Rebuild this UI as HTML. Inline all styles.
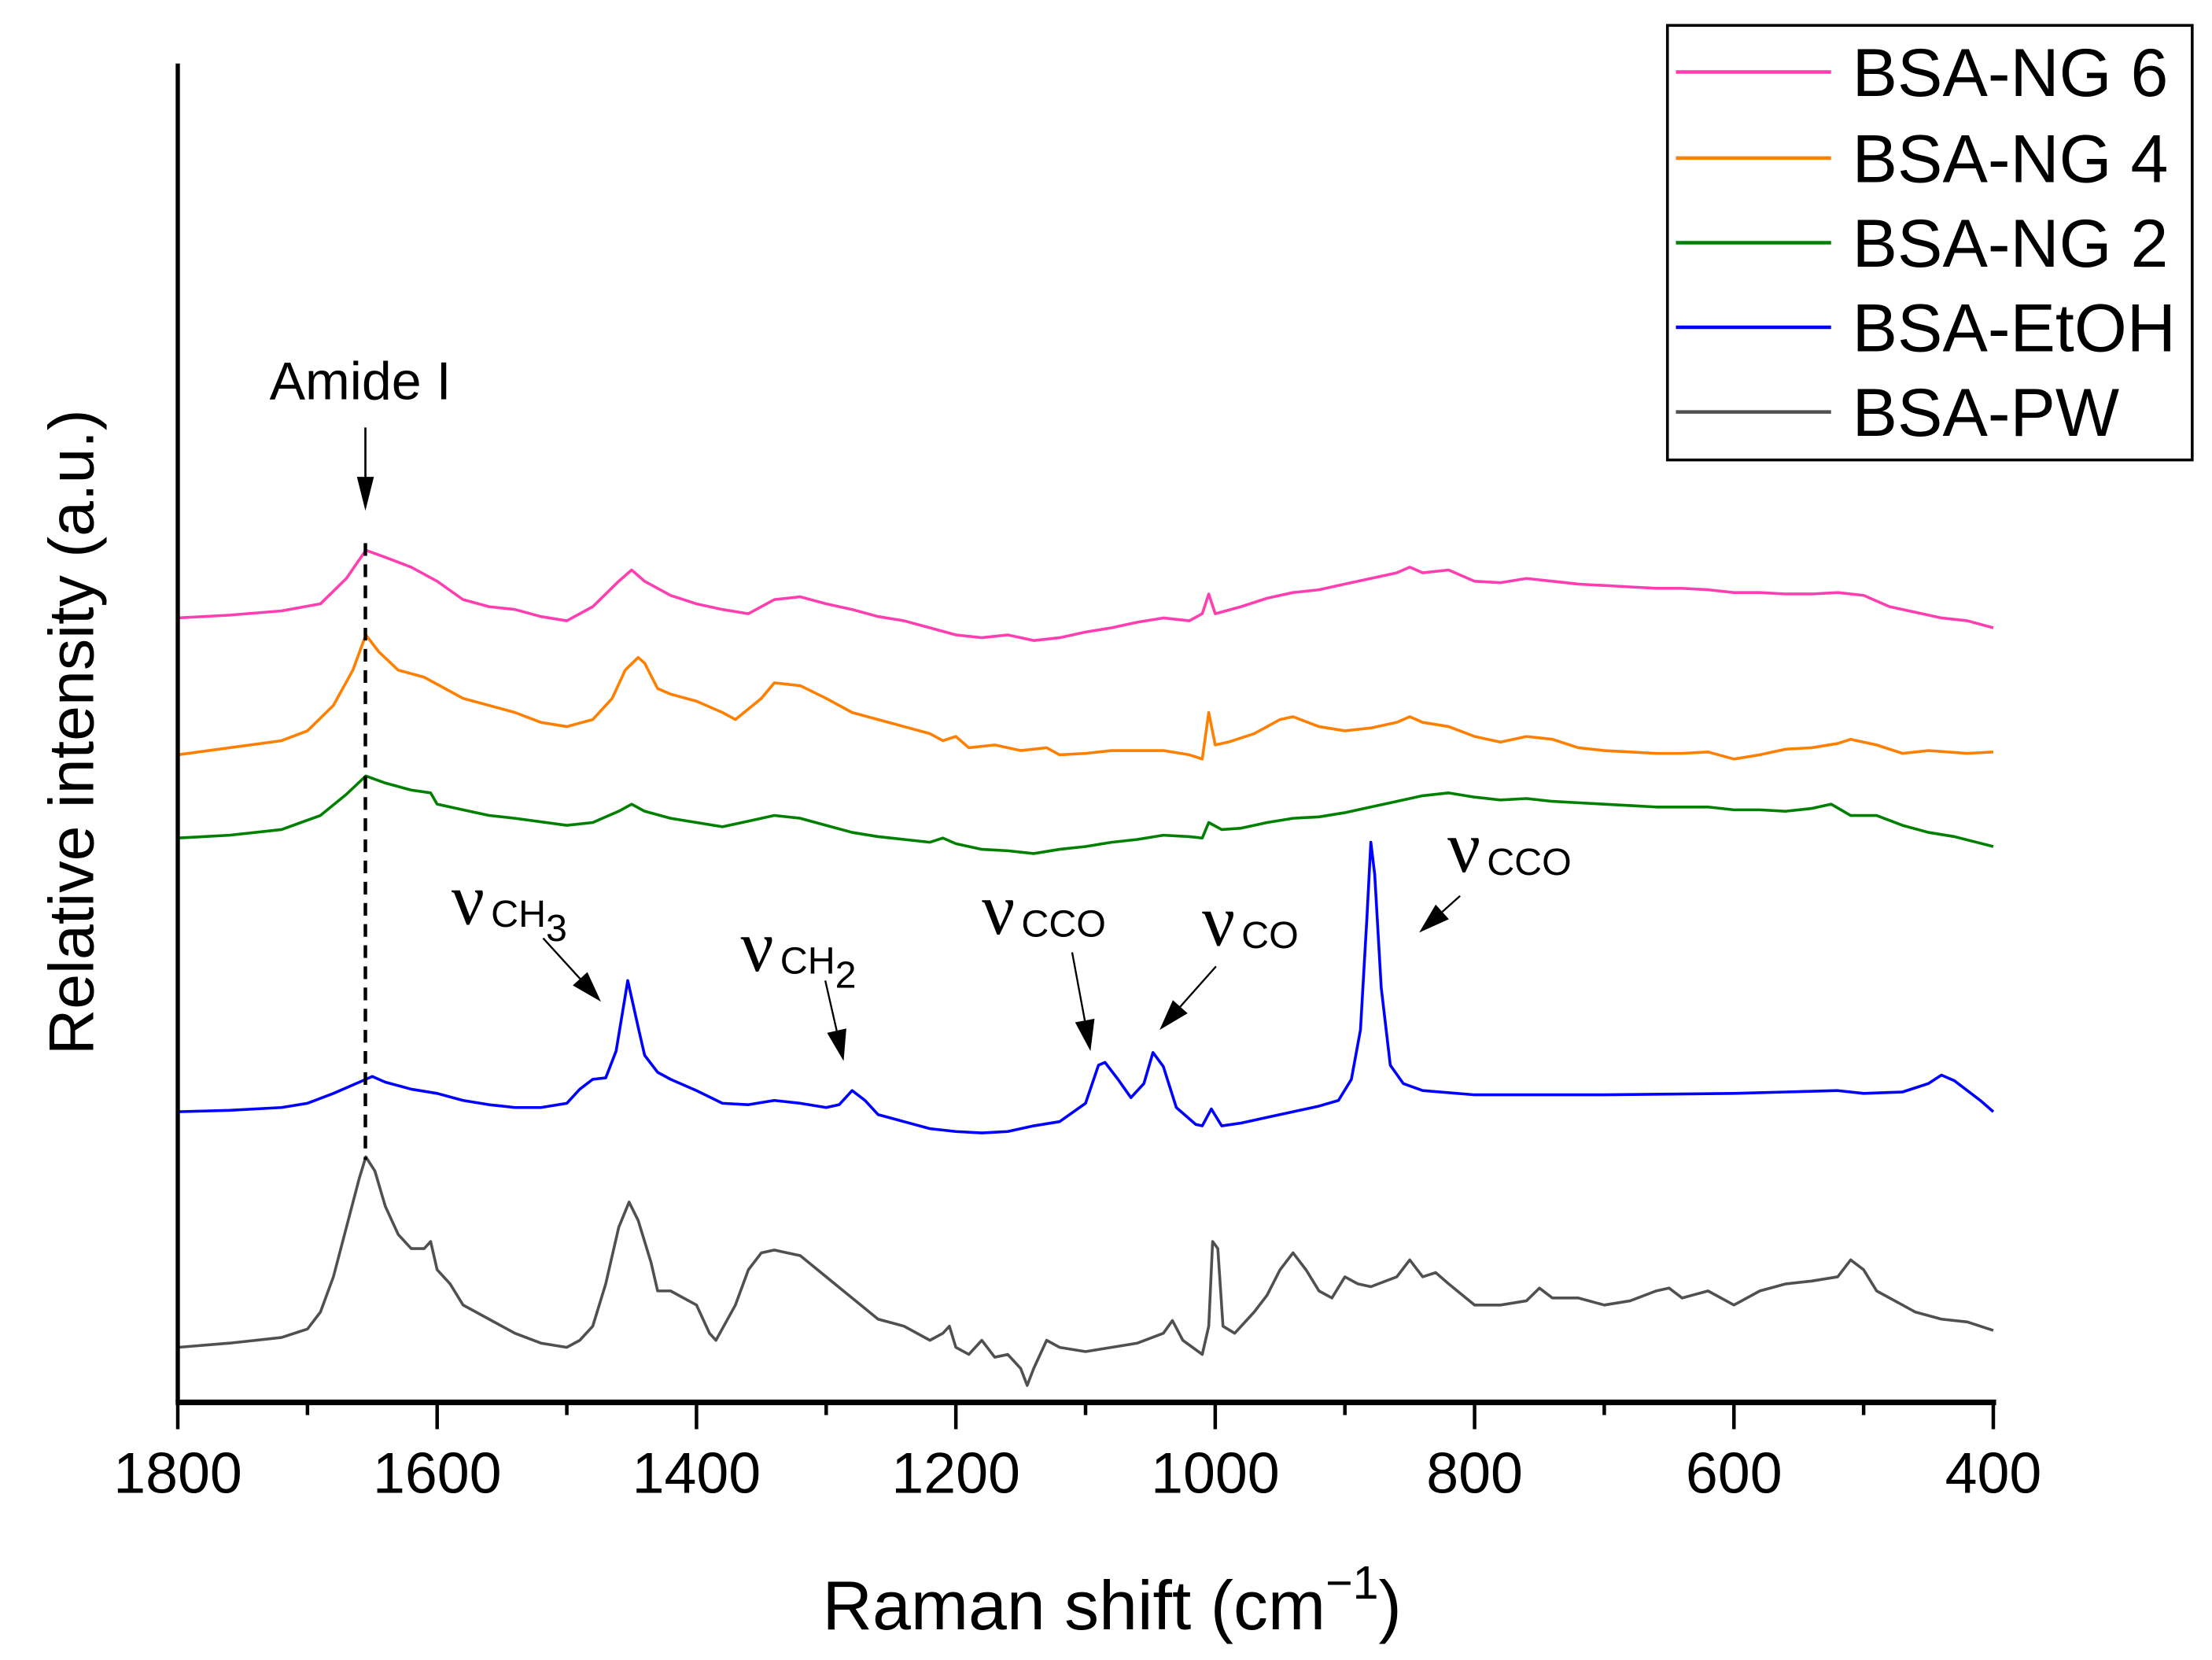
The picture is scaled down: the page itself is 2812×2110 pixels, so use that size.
<!DOCTYPE html>
<html><head><meta charset="utf-8"><style>
html,body{margin:0;padding:0;background:#fff;}
svg{display:block;font-family:"Liberation Sans",sans-serif;}
</style></head><body>
<svg id="chart" width="2812" height="2110" viewBox="0 0 1568 1176.6" xmlns="http://www.w3.org/2000/svg">
<g id="series"></g>
<g id="axes">
<line x1="126" y1="45" x2="126" y2="994" stroke="#000" stroke-width="3"/>
<line x1="124.5" y1="994" x2="1415" y2="994" stroke="#000" stroke-width="4"/>
</g>
<g id="ticks"></g>
<text x="583" y="1155" font-size="49">Raman shift (cm<tspan font-size="33" dy="-22">−1</tspan><tspan dy="22">)</tspan></text>
<text transform="translate(66,519) rotate(-90)" text-anchor="middle" font-size="45">Relative intensity (a.u.)</text>
<g>
<rect x="1182" y="18" width="372" height="308" fill="#fff" stroke="#000" stroke-width="2"/>
<line x1="1188" y1="51" x2="1298" y2="51" stroke="#ff3eb0" stroke-width="2.5"/>
<text x="1313" y="68" font-size="48">BSA-NG 6</text>
<line x1="1188" y1="112" x2="1298" y2="112" stroke="#ff8000" stroke-width="2.5"/>
<text x="1313" y="129" font-size="48">BSA-NG 4</text>
<line x1="1188" y1="172" x2="1298" y2="172" stroke="#008000" stroke-width="2.5"/>
<text x="1313" y="189" font-size="48">BSA-NG 2</text>
<line x1="1188" y1="232" x2="1298" y2="232" stroke="#0000ff" stroke-width="2.5"/>
<text x="1313" y="249" font-size="48">BSA-EtOH</text>
<line x1="1188" y1="292" x2="1298" y2="292" stroke="#505050" stroke-width="2.5"/>
<text x="1313" y="309" font-size="48">BSA-PW</text>
</g>
<g fill="#000">
<text x="191" y="283" font-size="38">Amide I</text>
<line x1="259" y1="303" x2="259" y2="345" stroke="#000" stroke-width="1.5"/>
<polygon points="253,338 265,338 259,362"/>
<line x1="259" y1="385" x2="259" y2="822" stroke="#000" stroke-width="2.5" stroke-dasharray="9,6"/>
<g><text x="320" y="655" font-family="Liberation Serif,serif" font-size="52">ν</text><text x="348" y="657" font-size="27">CH<tspan font-size="27" dy="10">3</tspan></text></g>
<g><text x="525" y="688" font-family="Liberation Serif,serif" font-size="52">ν</text><text x="553" y="690" font-size="27">CH<tspan font-size="27" dy="10">2</tspan></text></g>
<g><text x="696" y="662" font-family="Liberation Serif,serif" font-size="52">ν</text><text x="724" y="664" font-size="27">CCO</text></g>
<g><text x="852" y="670" font-family="Liberation Serif,serif" font-size="52">ν</text><text x="880" y="672" font-size="27">CO</text></g>
<g><text x="1026" y="618" font-family="Liberation Serif,serif" font-size="52">ν</text><text x="1054" y="620" font-size="27">CCO</text></g>
</g>
<g id="arrows"></g>
</svg>
<script>
const NS="http://www.w3.org/2000/svg";
const ticksMajor=[1800,1600,1400,1200,1000,800,600,400];
const ticksMinor=[1700,1500,1300,1100,900,700,500];
const seriesNames=["BSA-NG 6","BSA-NG 4","BSA-NG 2","BSA-EtOH","BSA-PW"];
const seriesColors=["#ff3eb0","#ff8000","#008000","#0000ff","#505050"];
const wnNG6=[1800,1760,1720,1690,1670,1655,1640,1620,1600,1580,1560,1540,1520,1500,1480,1460,1450,1440,1420,1400,1380,1360,1340,1320,1300,1280,1260,1240,1220,1200,1180,1160,1140,1120,1100,1080,1060,1040,1020,1010,1005,1000,980,960,940,920,900,880,860,850,840,820,800,780,760,740,720,700,680,660,640,620,600,580,560,540,520,500,480,460,440,420,400];
const valNG6=[556,558,561,566,584,604,599,592,582,569,564,562,557,554,564,582,590,582,572,566,562,559,569,571,566,562,557,554,549,544,542,544,540,542,546,549,553,556,554,559,573,559,564,570,574,576,580,584,588,592,588,590,582,581,584,582,580,579,578,577,577,576,574,574,573,573,574,572,564,560,556,554,549];
const wnNG4=[1800,1760,1720,1700,1680,1665,1655,1645,1630,1610,1600,1580,1560,1540,1520,1500,1480,1465,1455,1445,1440,1430,1420,1400,1380,1370,1350,1340,1320,1300,1280,1260,1240,1220,1210,1200,1190,1170,1150,1130,1120,1100,1080,1060,1040,1020,1010,1005,1000,990,970,950,940,920,900,880,860,850,840,820,800,780,760,740,720,700,680,660,640,620,600,580,560,540,520,510,490,470,450,420,400];
const valNG4=[459,464,469,476,494,519,544,532,519,514,509,499,494,489,482,479,484,499,519,528,524,506,502,497,489,484,499,510,508,499,489,484,479,474,469,472,464,466,462,464,459,460,462,462,462,459,456,489,466,468,474,484,486,479,476,478,482,486,482,479,472,468,472,470,464,462,461,460,460,461,456,459,463,464,467,470,466,460,462,460,461];
const wnNG2=[1800,1760,1720,1690,1670,1655,1640,1620,1605,1600,1580,1560,1540,1500,1480,1460,1450,1440,1420,1400,1380,1360,1340,1320,1300,1280,1260,1240,1220,1210,1200,1180,1160,1140,1120,1100,1080,1060,1040,1020,1010,1005,995,980,960,940,920,900,880,860,840,820,800,780,760,740,720,700,680,660,640,620,600,580,560,540,525,510,490,470,450,430,400];
const valNG2=[400,402,406,416,431,444,439,434,432,424,420,416,414,409,411,419,424,419,414,411,408,412,416,414,409,404,401,399,397,400,396,392,391,389,392,394,397,399,402,401,400,411,406,407,411,414,415,418,422,426,430,432,429,427,428,426,425,424,423,422,422,422,420,420,419,421,424,416,416,409,404,401,394];
const wnEtOH=[1800,1760,1720,1700,1680,1660,1650,1640,1620,1600,1580,1560,1540,1520,1500,1490,1480,1470,1462,1453,1445,1440,1430,1420,1400,1380,1360,1340,1320,1300,1290,1280,1270,1260,1240,1220,1200,1180,1160,1140,1120,1100,1090,1085,1075,1065,1055,1048,1040,1030,1015,1010,1003,995,980,960,940,920,905,895,888,883,880,877,872,865,855,840,800,760,700,600,560,520,500,470,450,440,430,410,400];
const valEtOH=[206,207,209,212,219,227,231,227,222,219,214,211,209,209,212,222,229,230,249,299,266,246,234,229,221,212,211,214,212,209,211,221,214,204,199,194,192,191,192,196,199,212,239,241,229,216,226,248,238,209,197,196,208,196,198,202,206,210,214,229,264,344,397,374,294,239,226,221,218,218,218,219,220,221,219,220,226,232,228,214,206];
const wnPW=[1800,1760,1720,1700,1690,1680,1670,1660,1655,1648,1640,1630,1620,1610,1605,1600,1590,1580,1560,1540,1520,1500,1490,1480,1470,1460,1452,1445,1435,1430,1420,1400,1390,1385,1370,1360,1350,1340,1330,1320,1300,1280,1260,1240,1220,1210,1205,1200,1190,1180,1170,1160,1150,1145,1140,1130,1120,1100,1080,1060,1040,1033,1025,1010,1005,1002,998,994,985,970,960,950,940,930,920,910,900,890,880,860,850,840,830,820,800,780,760,750,740,720,700,680,660,650,640,620,600,580,560,540,520,510,500,490,480,460,440,420,400];
const valPW=[39,42,46,52,64,89,124,159,174,164,139,119,109,109,114,94,84,69,59,49,42,39,44,54,84,124,142,129,99,79,79,69,49,44,69,94,106,108,106,104,89,74,59,54,44,49,54,39,34,44,32,34,24,12,24,44,39,36,39,42,49,58,44,34,54,114,109,54,49,64,76,94,106,94,79,74,89,84,82,89,101,89,92,84,69,69,72,81,74,74,69,72,79,81,74,79,69,79,84,86,89,101,94,79,74,64,59,57,51];
const seriesWn=[wnNG6,wnNG4,wnNG2,wnEtOH,wnPW];
const seriesVal=[valNG6,valNG4,valNG2,valEtOH,valPW];
const seriesKeys=["ng6","ng4","ng2","etoh","pw"];

function xScale(v){return 126+(1800-v)*(1287/1400);}
function yScale(v){return 994-v;}

const sg=document.getElementById('series');
for(let s=0;s<5;s++){
  let d="";
  seriesWn[s].forEach((w,i)=>{d+=(i?"L":"M")+xScale(w).toFixed(2)+","+yScale(seriesVal[s][i]).toFixed(2);});
  const p=document.createElementNS(NS,'path');
  p.setAttribute('d',d);p.setAttribute('fill','none');p.setAttribute('stroke',seriesColors[s]);
  p.setAttribute('stroke-width','2');p.setAttribute('stroke-linejoin','round');
  
  
  sg.appendChild(p);
}
const tg=document.getElementById('ticks');
ticksMajor.forEach(t=>{
  const l=document.createElementNS(NS,'line');
  l.setAttribute('x1',xScale(t));l.setAttribute('x2',xScale(t));l.setAttribute('y1',994);l.setAttribute('y2',1013);
  l.setAttribute('stroke','#000');l.setAttribute('stroke-width','2.5');
  
  
  tg.appendChild(l);
  const tx=document.createElementNS(NS,'text');
  tx.setAttribute('x',xScale(t));tx.setAttribute('y',1058);tx.setAttribute('text-anchor','middle');tx.setAttribute('font-size','41');
  tx.textContent=t;
  
  
  tg.appendChild(tx);
});
ticksMinor.forEach(t=>{
  const l=document.createElementNS(NS,'line');
  l.setAttribute('x1',xScale(t));l.setAttribute('x2',xScale(t));l.setAttribute('y1',994);l.setAttribute('y2',1003);
  l.setAttribute('stroke','#000');l.setAttribute('stroke-width','2.5');
  
  
  tg.appendChild(l);
});
const arrows=[["arrow-ch3",385,665,426,710],["arrow-ch2",585,695,598,752],["arrow-cco-1",760,675,773,745],["arrow-co",862,685,822,730],["arrow-cco-2",1035,635,1006,661]];
const ag=document.getElementById('arrows');
arrows.forEach(a=>{
  const [n,x1,y1,x2,y2]=a;
  const dx=x2-x1,dy=y2-y1,L=Math.hypot(dx,dy),ux=dx/L,uy=dy/L;
  const bx=x2-ux*22,by=y2-uy*22;
  const g=document.createElementNS(NS,'g');
  
  
  const l=document.createElementNS(NS,'line');
  l.setAttribute('x1',x1);l.setAttribute('y1',y1);l.setAttribute('x2',bx);l.setAttribute('y2',by);
  l.setAttribute('stroke','#000');l.setAttribute('stroke-width','1.3');
  g.appendChild(l);
  const pg=document.createElementNS(NS,'polygon');
  pg.setAttribute('points',`${x2},${y2} ${bx-uy*7},${by+ux*7} ${bx+uy*7},${by-ux*7}`);
  pg.setAttribute('fill','#000');
  g.appendChild(pg);
  ag.appendChild(g);
});
</script>
</body></html>
